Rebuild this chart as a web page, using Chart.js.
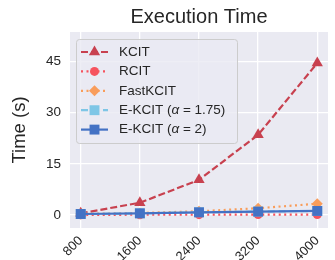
<!DOCTYPE html>
<html lang="en">
<head>
<meta charset="UTF-8">
<title>Execution Time</title>
<script src="https://cdn.jsdelivr.net/npm/chart.js@4.4.0/dist/chart.umd.min.js"></script>
<style>
  html, body { margin: 0; padding: 0; background: #ffffff; }
  #wrap { width: 335px; height: 260px; }
</style>
</head>
<body>
<div id="wrap"><canvas id="grafico"></canvas></div>
<script>
    // data
    var tamanhos = [800, 1600, 2400, 3200, 4000]
    var yTicks = [0, 15, 30, 45]
    var kcit = [0.5, 3.6, 10.3, 23.5, 44.5]
    var rcit = [0.05, 0.08, 0.1, 0.12, 0.15]
    var fastkcit = [0.3, 0.6, 1.1, 2.0, 3.3]
    var ekcit175 = [0.3, 0.5, 0.8, 1.0, 1.2]
    var ekcit2 = [0.3, 0.5, 0.8, 1.0, 1.2]

    var nomes = ['KCIT', 'RCIT', 'FastKCIT', 'E-KCIT (α = 1.75)', 'E-KCIT (α = 2)']
    var fonte = "'Liberation Sans', Arial, sans-serif"

    function pontos(vals) {
        return tamanhos.map(function (x, i) { return { x: x, y: vals[i] } })
    }

    function serie(i, vals, cor, dash, estilo, raio, ordem) {
        return {
            label: nomes[i],
            data: pontos(vals),
            borderColor: cor,
            backgroundColor: cor,
            borderWidth: 2.2,
            borderDash: dash,
            pointStyle: estilo,
            pointRadius: raio,
            pointHoverRadius: raio,
            pointBorderWidth: 0,
            order: ordem
        }
    }

    // legend drawn inside the plot, like matplotlib's
    var legendaDentro = {
        id: 'legendaDentro',
        afterDraw: function (chart) {
            var ctx = chart.ctx
            var area = chart.chartArea
            var x0 = area.left + 6, y0 = area.top + 7
            var w = 161, h = 104
            ctx.save()
            ctx.fillStyle = 'rgba(234,234,242,0.8)'
            ctx.strokeStyle = '#cccccc'
            ctx.lineWidth = 1
            ctx.beginPath()
            ctx.roundRect(x0 + 0.5, y0 + 0.5, w, h, 3)
            ctx.fill()
            ctx.stroke()

            chart.data.datasets.forEach(function (ds, i) {
                var y = y0 + 13 + i * 19.4
                var xa = x0 + 5, xb = x0 + 32
                ctx.strokeStyle = ds.borderColor
                ctx.lineWidth = ds.borderWidth
                ctx.setLineDash(ds.borderDash)
                ctx.beginPath()
                ctx.moveTo(xa, y)
                ctx.lineTo(xb, y)
                ctx.stroke()
                ctx.setLineDash([])
                ctx.fillStyle = ds.backgroundColor
                Chart.helpers.drawPoint(ctx, { pointStyle: ds.pointStyle, radius: ds.pointRadius, rotation: 0, borderWidth: 0 }, (xa + xb) / 2, y)

                // text, alpha in italic
                ctx.fillStyle = '#262626'
                ctx.textBaseline = 'middle'
                ctx.textAlign = 'left'
                var partes = ds.label.split('α')
                var tx = x0 + 43
                ctx.font = '13.5px ' + fonte
                ctx.fillText(partes[0], tx, y)
                if (partes.length > 1) {
                    tx += ctx.measureText(partes[0]).width
                    ctx.font = 'italic 13.5px ' + fonte
                    ctx.fillText('α', tx, y)
                    tx += ctx.measureText('α').width
                    ctx.font = '13.5px ' + fonte
                    ctx.fillText(partes[1], tx, y)
                }
            })
            ctx.restore()
        }
    }

    const config = {
        type: 'line',
        data: {
            datasets: [
                serie(0, kcit, '#c8414f', [7, 3], 'triangle', 6.5, 4),
                serie(1, rcit, '#f6535e', [2, 3.5], 'circle', 4.5, 3),
                serie(2, fastkcit, '#f99d5b', [2, 3.5], 'rectRot', 5.5, 2),
                serie(3, ekcit175, '#7ec6e6', [7, 4], 'rect', 7, 1),
                serie(4, ekcit2, '#4472c4', [], 'rect', 7, 0)
            ]
        },
        options: {
            responsive: false,
            animation: false,
            devicePixelRatio: 1,
            layout: { padding: { left: 0, right: 0, top: 0, bottom: 0 } },
            plugins: {
                legend: { display: false },
                tooltip: { enabled: false },
                title: {
                    display: true,
                    text: 'Execution Time',
                    fullSize: false,
                    color: '#262626',
                    font: { family: fonte, size: 20, weight: 'normal' },
                    padding: { top: 5, bottom: 3 }
                }
            },
            scales: {
                x: {
                    type: 'linear',
                    min: 655,
                    max: 4145,
                    afterBuildTicks: function (s) { s.ticks = tamanhos.map(function (v) { return { value: v } }) },
                    afterFit: function (s) { s.height = 32 },
                    grid: { color: '#ffffff', lineWidth: 1.3, drawTicks: false },
                    border: { display: false },
                    ticks: {
                        color: '#262626',
                        font: { family: fonte, size: 13 },
                        minRotation: 45,
                        maxRotation: 45,
                        padding: 5,
                        callback: function (v) { return String(v) }
                    }
                },
                y: {
                    min: -3.8,
                    max: 53.6,
                    afterBuildTicks: function (s) { s.ticks = yTicks.map(function (v) { return { value: v } }) },
                    afterFit: function (s) { s.width = 70 },
                    grid: { color: '#ffffff', lineWidth: 1.3, drawTicks: false },
                    border: { display: false },
                    title: {
                        display: true,
                        text: 'Time (s)',
                        color: '#262626',
                        font: { family: fonte, size: 18.5 },
                        padding: { top: 9, bottom: 4 }
                    },
                    ticks: {
                        color: '#262626',
                        font: { family: fonte, size: 13.5 },
                        padding: 9
                    }
                }
            }
        },
        plugins: [
            {
                id: 'fundo',
                beforeDraw: function (chart) {
                    var a = chart.chartArea
                    chart.ctx.save()
                    chart.ctx.fillStyle = '#eaeaf2'
                    chart.ctx.fillRect(a.left, a.top, a.right - a.left, a.bottom - a.top)
                    chart.ctx.restore()
                }
            },
            legendaDentro
        ]
    }

    var canvas = document.getElementById('grafico')
    canvas.width = 335
    canvas.height = 260
    const myChart = new Chart(canvas, config)
</script>
</body>
</html>
